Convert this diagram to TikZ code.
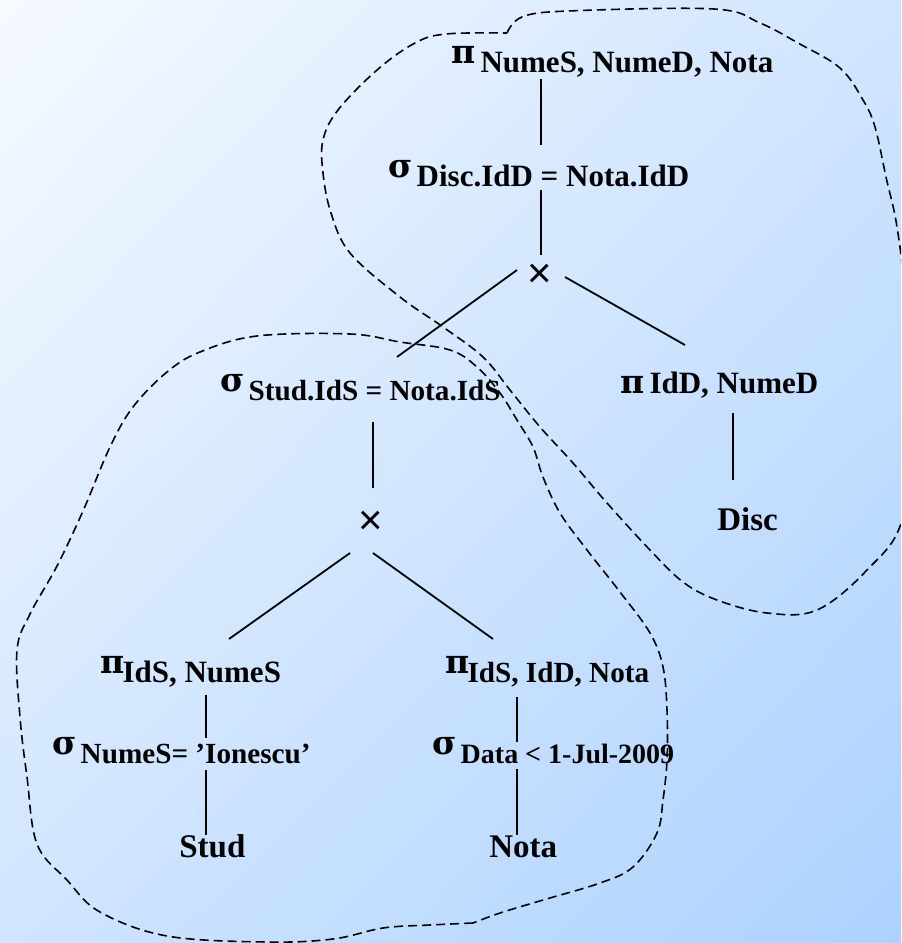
\documentclass[tikz,border=0pt]{standalone}
\usepackage{fontspec}
\setmainfont{Liberation Serif}
\newfontfamily\crossfont{Liberation Sans}
\newfontfamily\greekfont{DejaVu Serif}
\usetikzlibrary{shadings}
\newcommand{\gk}[1]{\raisebox{4.5pt}{\greekfont\bfseries\fontsize{16.5pt}{17pt}\selectfont #1}}
\newcommand{\gkflat}[1]{{\greekfont\bfseries\fontsize{16.5pt}{17pt}\selectfont #1}}
\definecolor{bgA}{RGB}{246,250,255}
\definecolor{bgM}{RGB}{208,229,255}
\definecolor{bgB}{RGB}{172,210,255}

\tikzset{
	op/.style={anchor=base west, inner sep=0pt, font=\fontsize{15.5pt}{18pt}\selectfont\bfseries},
	small op/.style={op, font=\fontsize{14.6pt}{18pt}\selectfont\bfseries},
	rel/.style={anchor=base west, inner sep=0pt, font=\fontsize{16.5pt}{18pt}\selectfont\bfseries},
	prod/.style={inner sep=0pt, font=\crossfont\fontsize{21pt}{21pt}\selectfont},
	link/.style={line width=0.9pt},
	blob/.style={dash pattern=on 4.5pt off 2.5pt, line width=0.8pt}
}

\begin{document}
\begin{tikzpicture}[x=0.5pt, y=-0.5pt]
		\useasboundingbox (0,0) rectangle (901,943);
		\clip (0,0) rectangle (901,943);
		\shade[upper left=bgA, upper right=bgM, lower left=bgM, lower right=bgB] (0,0) rectangle (901,943);
		% upper part of the tree
		\node[op] (pN) at (451,72) {\gk{π}\hspace{2.5pt}NumeS, NumeD, Nota};
		\node[op] (sD) at (388,186) {\gk{σ}\hspace{2pt}Disc.IdD = Nota.IdD};
		\node[prod] (x1) at (540,276) {×};
		\node[small op] (sS) at (220,400) {\gk{σ}\hspace{2pt}Stud.IdS = Nota.IdS};
		\node[op] (pD) at (620,393) {\gkflat{π}\hspace{2.5pt}IdD, NumeD};
		\node[rel] (disc) at (717,530) {Disc};
		% lower part of the tree
		\node[prod] (x2) at (371,523) {×};
		\node[op] (pS) at (100,682) {\gk{π}\hspace{-1pt}IdS, NumeS};
		\node[small op] (sN) at (52,763) {\gk{σ}\hspace{2pt}NumeS= ’Ionescu’};
		\node[rel] (stud) at (179,857) {Stud};
		\node[small op] (pI) at (445,682) {\gk{π}\hspace{-1pt}IdS, IdD, Nota};
		\node[small op, font=\fontsize{14pt}{18pt}\selectfont\bfseries] (sA) at (432,763) {\gk{σ}\hspace{2pt}Data < 1-Jul-2009};
		\node[rel] (nota) at (489,857) {Nota};
		\draw[link] ([shift={(90,7)}]pN.base west) -- ([shift={(153,-41)}]sD.base west);
		\draw[link] ([shift={(153,4)}]sD.base west) -- ([shift={(1,-21)}]x1.center);
		\draw[link] ([shift={(-23,-6)}]x1.center) -- ([shift={(177,-43)}]sS.base west);
		\draw[link] ([shift={(25,1)}]x1.center) -- ([shift={(65,-48)}]pD.base west);
		\draw[link] ([shift={(153,22)}]sS.base west) -- ([shift={(2,-35)}]x2.center);
		\draw[link] ([shift={(113,20)}]pD.base west) -- ([shift={(16,-50)}]disc.base west);
		\draw[link] ([shift={(-21,30)}]x2.center) -- ([shift={(129,-43)}]pS.base west);
		\draw[link] ([shift={(2,30)}]x2.center) -- ([shift={(48,-43)}]pI.base west);
		\draw[link] ([shift={(106,13)}]pS.base west) -- ([shift={(154,-25)}]sN.base west);
		\draw[link] ([shift={(154,7)}]sN.base west) -- ([shift={(27,-22)}]stud.base west);
		\draw[link] ([shift={(72,15)}]pI.base west) -- ([shift={(85,-21)}]sA.base west);
		\draw[link] ([shift={(85,6)}]sA.base west) -- ([shift={(28,-22)}]nota.base west);
		% dashed groups
		\draw[blob] plot[smooth, tension=0.6] coordinates {(507,33) (522,17) (568,11) (714,9) (760,23) (798,43) (840,68) (863,100) (875,127) (886,177) (897,227) (905,300) (908,420) (902,520) (867,570) (817,610) (767,613) (717,600) (683,582) (650,550) (607,503) (573,463) (540,427) (510,390) (483,357) (443,327) (400,297) (350,253) (331,213) (323,173) (323,140) (338,110) (377,70) (415,43) (446,34) (507,33)};
		\draw[blob] plot[smooth, tension=0.6] coordinates {(473,923) (430,925) (383,928) (333,939) (267,942) (167,936) (100,912) (67,880) (37,844) (27,777) (20,717) (17,650) (30,614) (57,566) (83,511) (110,447) (133,407) (167,372) (200,352) (257,336) (350,334) (400,342) (450,350) (477,367) (500,393) (517,420) (533,447) (543,477) (560,513) (587,550) (620,592) (650,633) (663,667) (667,710) (667,760) (663,800) (657,833) (633,867) (600,883) (543,900) (500,913) (473,923)};
\end{tikzpicture}
\end{document}
